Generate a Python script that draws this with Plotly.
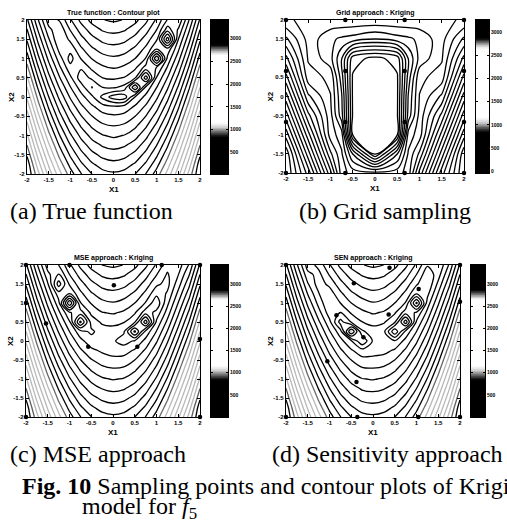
import numpy as np
import plotly.graph_objects as go

W, H = 507, 520

# ---------------- data ----------------
X1_FINE = [-2, -1.75, -1.5, -1.25, -1, -0.75, -0.5, -0.25, 0, 0.25, 0.5, 0.75, 1, 1.25, 1.5, 1.75, 2]
X2_FINE = [-2, -1.75, -1.5, -1.25, -1, -0.75, -0.5, -0.25, 0, 0.25, 0.5, 0.75, 1, 1.25, 1.5, 1.75, 2]
X1_GRIDMODEL = [-2, -1.5, -1, -0.75, -0.5, 0, 0.5, 0.75, 1, 1.5, 2]
X2_GRIDMODEL = [-2, -1.5, -1, -0.5, 0, 0.5, 1, 1.5, 2]

# rows: X2 = -2 ... 2 ; columns: X1 = -2 ... 2
TRUE_F = [
    [3609, 2571, 1812, 1274, 904, 660, 508, 427, 401, 426, 506, 657, 900, 1269, 1806, 2564, 3601],
    [3315, 2324, 1606, 1102, 760, 538, 402, 331, 307, 330, 400, 535, 756, 1097, 1600, 2317, 3307],
    [3034, 2090, 1412, 943, 629, 428, 308, 246, 226, 245, 306, 425, 625, 938, 1406, 2083, 3026],
    [2765, 1868, 1231, 796, 510, 332, 227, 174, 157, 173, 225, 329, 506, 791, 1225, 1861, 2757],
    [2509, 1658, 1062, 662, 404, 247, 158, 115, 101, 114, 156, 244, 400, 657, 1056, 1651, 2501],
    [2265, 1462, 906, 540, 310, 175, 102, 68, 57, 67, 100, 172, 306, 535, 900, 1455, 2257],
    [2034, 1277, 762, 430, 229, 116, 58.5, 33.2, 26, 32.2, 56.5, 113, 225, 425, 756, 1270, 2026],
    [1815, 1105, 631, 334, 160, 69.1, 27.3, 11.4, 7.3, 10.4, 25.3, 66.1, 156, 329, 625, 1098, 1807],
    [1609, 946, 512, 249, 104, 34.7, 8.5, 2.0, 1.0, 0.95, 6.5, 31.7, 100, 244, 506, 939, 1601],
    [1415, 799, 406, 177, 60.3, 12.8, 2.25, 5.1, 7.3, 4.1, 0.25, 9.8, 56.3, 172, 400, 792, 1407],
    [1234, 665, 312, 118, 29, 3.45, 8.5, 20.7, 26, 19.7, 6.5, 0.45, 25, 113, 306, 657, 1226],
    [1065, 543, 231, 71.1, 10.3, 6.6, 27.3, 48.8, 57.3, 47.8, 25.3, 3.6, 6.3, 66.1, 225, 535, 1057],
    [909, 432, 162, 36.7, 4, 22.2, 58.5, 89.4, 101, 88.5, 56.5, 19.2, 0, 31.7, 156, 426, 901],
    [765, 337, 106, 14.8, 10.3, 50.3, 102, 143, 157, 142, 100, 47.3, 6.3, 9.8, 100, 330, 757],
    [634, 252, 62.5, 5.5, 29, 91, 158, 208, 226, 207, 156, 88, 25, 0.45, 56.5, 245, 626],
    [515, 180, 31.3, 8.6, 60.3, 144, 227, 286, 307, 285, 225, 141, 56.3, 3.6, 25.3, 173, 507],
    [409, 120, 12.5, 24.2, 104, 210, 308, 377, 401, 376, 306, 207, 100, 19.2, 6.5, 113, 401],
]

# Kriging model built on the 4x4 grid of samples (columns follow X1_GRIDMODEL)
GRID_F = [
    [4088, 2044, 701.2, 225, 148.1, 136.2, 148.1, 225, 701.2, 2044, 4088],
    [3329, 1518.7, 409.3, 196, 20.0, -0.5, 20.0, 196, 409.3, 1518.7, 3329],
    [2647, 1070.6, 228.6, 144, -0.5, -4, -0.5, 144, 228.6, 1070.6, 2647],
    [2044, 701.2, 214.3, 36, -0.8, -9, -0.8, 36, 214.3, 701.2, 2044],
    [1518.7, 409.3, 186.6, 25, -1.44, -9, -1.44, 25, 186.6, 409.3, 1518.7],
    [1070.6, 223.8, 164.6, 12.25, -1, -6.25, -1, 12.25, 164.6, 223.8, 1070.6],
    [701.2, 173.5, 74.1, 6.25, 0.48, -3, 0.48, 6.25, 74.1, 173.5, 701.2],
    [409.3, 156.3, 68.7, 49, 40, 19.2, 40, 49, 68.7, 156.3, 409.3],
    [195.7, 164.6, 164.6, 169, 169, 169, 169, 169, 164.6, 164.6, 195.7],
]

MSE_F = [
    [3609, 2571, 1812, 1273, 900, 658, 511, 433, 407, 429, 507, 657, 903, 1284, 1836, 2568, 3603],
    [3315, 2324, 1606, 1101, 756, 536, 405, 337, 313, 333, 401, 535, 759, 1112, 1630, 2321, 3309],
    [3034, 2090, 1412, 942, 625, 426, 311, 252, 232, 248, 307, 425, 628, 953, 1436, 2087, 3028],
    [2765, 1868, 1231, 795, 506, 330, 230, 180, 163, 176, 226, 329, 509, 806, 1255, 1865, 2759],
    [2509, 1658, 1062, 661, 400, 245, 161, 121, 107, 117, 157, 244, 403, 672, 1086, 1655, 2503],
    [2265, 1462, 906, 539, 306, 173, 105, 74, 63, 69.5, 101, 172, 309, 550, 930, 1459, 2259],
    [2034, 1277, 762, 429, 225, 114, 60.8, 39.6, 32, 35.1, 56.9, 113, 228, 440, 786, 1274, 2028],
    [1815, 1105, 631, 333, 156, 66.8, 29.5, 17.8, 13.3, 13.3, 25.6, 66, 159, 344, 655, 1102, 1809],
    [1609, 946, 512, 248, 100, 32.4, 10.8, 8.4, 7, 3.9, 6.9, 31.7, 103, 259, 536, 943, 1603],
    [1415, 799, 406, 176, 56.4, 10.6, 4.5, 11.5, 13.3, 7.0, 0.6, 9.9, 59.3, 187, 430, 796, 1409],
    [1234, 665, 312, 117, 25.1, 0.6, 10.8, 27.1, 32, 22.6, 6.9, 0.45, 28, 128, 336, 662, 1228],
    [1065, 543, 231, 70, 6.4, 3.7, 29.5, 55.3, 63.3, 50.8, 25.6, 3.55, 9.3, 81, 255, 540, 1059],
    [909, 433, 162, 33.0, 0.1, 19.3, 60.8, 95.9, 107, 91.4, 56.9, 19.2, 3, 46.6, 186, 430, 903],
    [765, 337, 106, 11.2, 6.4, 47.5, 104.5, 149, 163, 144.5, 100.6, 47.4, 9.3, 24.8, 130, 334, 759],
    [634, 252, 62.6, 1.8, 25.1, 88.7, 160.5, 215, 232, 210.5, 156.6, 88, 28, 15.4, 86.3, 249, 628],
    [515, 180, 31.3, 4.9, 56.4, 141.8, 229.5, 293, 313, 288.5, 225.6, 141, 59.3, 18.5, 55, 177, 509],
    [409, 121, 12.6, 20.5, 100.1, 207.8, 310.5, 383, 407, 378.5, 306.6, 207, 103, 34.1, 36.3, 118, 403],
]

SEN_F = [
    [3609, 2571, 1812, 1281, 906, 659, 506, 426, 407, 431, 507, 657, 901, 1275, 1821, 2568, 3603],
    [3315, 2324, 1606, 1109, 762, 537, 400, 330, 313, 335, 401, 535, 757, 1103, 1615, 2321, 3309],
    [3034, 2090, 1412, 950, 631, 427, 306, 245, 232, 250, 307, 425, 626, 944, 1421, 2087, 3028],
    [2765, 1868, 1231, 803, 512, 331, 225, 173, 163, 178, 226, 329, 507, 797, 1240, 1865, 2759],
    [2509, 1658, 1062, 669, 406, 246, 156, 114, 107, 119, 157, 244, 401, 663, 1071, 1655, 2503],
    [2265, 1462, 906, 547, 312, 174, 100, 67, 63, 71.5, 101, 172, 307, 541, 915, 1459, 2259],
    [2034, 1277, 762, 437, 231, 115, 56.4, 32.6, 32, 37.1, 57.1, 113, 226, 431, 771, 1274, 2028],
    [1815, 1105, 631, 341, 162, 67.5, 25.1, 10.8, 13.3, 15.3, 25.8, 66, 157, 335, 640, 1102, 1809],
    [1609, 946, 512, 256, 106, 33.1, 6.4, 1.4, 7, 5.9, 7.1, 31.7, 101, 250, 521, 943, 1603],
    [1415, 799, 406, 184, 61.8, 11.3, 0.1, 4.5, 13.3, 9.0, 0.8, 9.85, 56.9, 178, 415, 796, 1409],
    [1234, 665, 312, 125, 30.5, 1.9, 6.4, 20.1, 32, 24.6, 7.1, 0.45, 25.6, 118.5, 321, 662, 1228],
    [1065, 543, 231, 78, 11.8, 5.0, 25.1, 48.3, 63.3, 52.8, 25.8, 3.55, 6.9, 71.5, 240, 540, 1059],
    [909, 433, 162, 43.6, 5.5, 20.6, 56.4, 88.9, 107, 93.4, 57.1, 19.15, 0.6, 37.1, 171, 430, 903],
    [765, 337, 106, 21.8, 11.8, 48.8, 100.1, 142, 163, 146.5, 100.8, 47.35, 6.9, 15.3, 115, 334, 759],
    [634, 252, 62.6, 12.4, 30.5, 89.4, 156.1, 208, 232, 212.5, 156.8, 87.95, 25.6, 5.9, 71.3, 249, 628],
    [515, 180, 31.3, 15.5, 61.8, 142.5, 225.1, 286, 313, 290.5, 225.8, 141, 56.9, 9.0, 40, 177, 509],
    [409, 121, 12.6, 31.1, 105.5, 208.5, 306.1, 376, 407, 380.5, 306.8, 207, 100.6, 24.6, 21.3, 118, 403],
]

# sampling points
GRID_X1 = [-2, -0.667, 0.667, 2, -2, -0.667, 0.667, 2, -2, -0.667, 0.667, 2, -2, -0.667, 0.667, 2]
GRID_X2 = [2, 2, 2, 2, 0.667, 0.667, 0.667, 0.667, -0.667, -0.667, -0.667, -0.667, -2, -2, -2, -2]
MSE_X1 = [-2, -1.0, 1.12, 2, 0.02, -2, -1.54, -0.57, 0.56, 2, -2, 2]
MSE_X2 = [2, 2, 2, 2, 1.47, 1.0, 0.46, -0.15, -0.15, 0.05, -2, -2]
SEN_X1 = [-2, 0.38, 2, -0.44, 1.05, 2, 0.36, -0.84, -0.22, -1.05, -0.38, -2, -0.36, 1.04, 2]
SEN_X2 = [2, 1.93, 2, 1.52, 1.37, 1.03, 0.7, 0.68, 0.1, -0.53, -1.08, -2, -2, -2, -2]

# contour levels (function values)
LEVELS = [0.3, 0.7, 1.3, 2.3, 5, 20.4, 56.6, 110.7, 182.8, 272.9, 381, 507.2, 651.3,
          813.4, 993.5, 1191.6, 1407.8, 1641.9, 1894, 2164.1, 2452.2, 2758.4, 3082.5, 3424.6]

AXIS_TICKS = [-2, -1.5, -1, -0.5, 0, 0.5, 1, 1.5, 2]
AXIS_TICKTEXT = ["-2", "-1.5", "-1", "-0.5", "0", "0.5", "1", "1.5", "2"]
CB_TICKS_A = [500, 1000, 1500, 2000, 2500, 3000]
CB_TICKS_B = [0, 500, 1000, 1500, 2000, 2500, 3000]

# ---------------- helpers ----------------
N = len(LEVELS)
KF = [-10.0] + LEVELS + [100000.0]
KI = [-1.0] + list(range(N)) + [float(N)]


def level_index(F):
    return np.interp(np.asarray(F, dtype=float), KF, KI)


# grey version of the (jet) colormap as it appears in the scan
BAND_F = [-1000, 850, 950, 1050, 1150, 2650, 2720, 2790, 2860, 100000]
BAND_B = [0, 0, 0.4, 0.8, 1, 1, 0.73, 0.33, 0, 0]


def grey(b):
    v = int(round(255 * b))
    return f"rgb({v},{v},{v})"


LINE_SCALE = []
for i, lv in enumerate(LEVELS):
    b = float(np.interp(lv, BAND_F, BAND_B)) * 0.72
    LINE_SCALE.append([i / (N - 1), grey(b)])
BLACK_SCALE = [[0, "black"], [1, "black"]]


def cb_scale(cmin, cmax):
    vals = np.linspace(cmin, cmax, 80)
    return [[(v - cmin) / (cmax - cmin), grey(float(np.interp(v, BAND_F, BAND_B)))] for v in vals]


def fx(px):
    return px / W


def fy(py):
    return 1 - py / H


PANELS = [
    dict(F=TRUE_F, x=X1_FINE, y=X2_FINE, px=(27, 200), py=(20, 174), cb=(211, 228),
         crange=(20, 3410), cticks=CB_TICKS_A, title="True function : Contour plot",
         pts=None, scale=LINE_SCALE),
    dict(F=GRID_F, x=X1_GRIDMODEL, y=X2_GRIDMODEL, px=(286, 464), py=(20, 173), cb=(476, 489),
         crange=(-40, 3260), cticks=CB_TICKS_B, title="Grid approach : Kriging",
         pts=(GRID_X1, GRID_X2), scale=BLACK_SCALE),
    dict(F=MSE_F, x=X1_FINE, y=X2_FINE, px=(26, 200), py=(265, 417), cb=(211, 228),
         crange=(0, 3430), cticks=CB_TICKS_A, title="MSE approach : Kriging",
         pts=(MSE_X1, MSE_X2), scale=LINE_SCALE),
    dict(F=SEN_F, x=X1_FINE, y=X2_FINE, px=(286, 460), py=(265, 417), cb=(471, 485),
         crange=(0, 3430), cticks=CB_TICKS_A, title="SEN approach : Kriging",
         pts=(SEN_X1, SEN_X2), scale=LINE_SCALE),
]

fig = go.Figure()
annotations = []
layout_axes = {}
TICK_FONT = dict(family="Liberation Sans", size=6, color="black", weight="bold")
CB_FONT = dict(family="Liberation Sans", size=5, color="black", weight="bold")


def axis_names(n):
    xa = "x" if n == 1 else f"x{n}"
    ya = "y" if n == 1 else f"y{n}"
    xkey = "xaxis" if n == 1 else f"xaxis{n}"
    ykey = "yaxis" if n == 1 else f"yaxis{n}"
    return xa, ya, xkey, ykey


for k, p in enumerate(PANELS):
    xa, ya, xkey, ykey = axis_names(k + 1)

    fig.add_trace(go.Contour(
        x=p["x"], y=p["y"], z=level_index(p["F"]),
        autocontour=False,
        contours=dict(start=0, end=N - 1, size=1, coloring="lines", showlabels=False),
        colorscale=p["scale"], zmin=0, zmax=N - 1, showscale=False,
        line=dict(width=1.3, smoothing=0.9),
        xaxis=xa, yaxis=ya, hoverinfo="skip",
    ))

    if p["pts"] is not None:
        fig.add_trace(go.Scatter(
            x=p["pts"][0], y=p["pts"][1], mode="markers",
            marker=dict(color="black", size=4.5),
            xaxis=xa, yaxis=ya, cliponaxis=False, hoverinfo="skip", showlegend=False,
        ))

    px0, px1 = p["px"]
    py0, py1 = p["py"]
    common = dict(
        range=[-2, 2], showgrid=False, zeroline=False, showline=True, linewidth=1.2,
        linecolor="black", mirror="ticks", ticks="inside", ticklen=3, tickcolor="black",
        tickvals=AXIS_TICKS, ticktext=AXIS_TICKTEXT, tickfont=TICK_FONT, automargin=False,
    )
    layout_axes[xkey] = dict(domain=[fx(px0), fx(px1)], anchor=ya, **common)
    layout_axes[ykey] = dict(domain=[fy(py1), fy(py0)], anchor=xa, **common)

    # colour bar drawn in its own small axes
    cxa, cya, cxkey, cykey = axis_names(k + 5)
    cmin, cmax = p["crange"]
    cb0, cb1 = p["cb"]
    bar_vals = np.linspace(cmin, cmax, 240)
    fig.add_trace(go.Heatmap(
        x=[0], y=bar_vals, z=[[v] for v in bar_vals], colorscale=cb_scale(cmin, cmax),
        zmin=cmin, zmax=cmax, showscale=False, xaxis=cxa, yaxis=cya, hoverinfo="skip",
    ))
    layout_axes[cxkey] = dict(domain=[fx(cb0), fx(cb1)], anchor=cya, range=[-0.5, 0.5],
                              showgrid=False, zeroline=False, showticklabels=False, ticks="",
                              showline=True, mirror=True, linecolor="black", linewidth=1,
                              automargin=False)
    layout_axes[cykey] = dict(domain=[fy(py1), fy(py0)], anchor=cxa, range=[cmin, cmax],
                              side="right", showgrid=False, zeroline=False, showline=True,
                              mirror="ticks", linecolor="black", linewidth=1, ticks="inside",
                              ticklen=2, tickcolor="black", tickvals=p["cticks"],
                              tickfont=CB_FONT, automargin=False)

    cx = (px0 + px1) / 2
    small = dict(family="Liberation Sans", size=7, color="black")
    annotations.append(dict(text=f"<b>{p['title']}</b>", x=fx(cx), y=fy(py0 - 7),
                            xref="paper", yref="paper",
                            xanchor="center", yanchor="middle", showarrow=False, font=small))
    annotations.append(dict(text="<b>X1</b>", x=fx(cx), y=fy(py1 + 15),
                            xref="paper", yref="paper",
                            xanchor="center", yanchor="middle", showarrow=False,
                            font=dict(family="Liberation Sans", size=8, color="black")))
    annotations.append(dict(text="<b>X2</b>", x=fx(px0 - 16), y=fy((py0 + py1) / 2),
                            xref="paper", yref="paper",
                            xanchor="center", yanchor="middle", showarrow=False, textangle=-90,
                            font=dict(family="Liberation Sans", size=8, color="black")))

CAP_FONT = dict(family="Liberation Serif, Times New Roman, serif", size=24, color="black")
captions = [
    ("(a) True function", 8, 211),
    ("(b) Grid sampling", 297, 211),
    ("(c) MSE approach", 8, 454),
    ("(d) Sensitivity approach", 270, 454),
    ("<b>Fig. 10</b> Sampling points and contour plots of Kriging", 20, 486),
    ("model for <i>f</i><sub>5</sub>", 80, 508),
]
for txt, x0, yc in captions:
    annotations.append(dict(text=txt, x=fx(x0), y=fy(yc), xref="paper", yref="paper",
                            xanchor="left", yanchor="middle", showarrow=False, font=CAP_FONT))

fig.update_layout(
    width=W, height=H, margin=dict(l=0, r=0, t=0, b=0, autoexpand=False),
    paper_bgcolor="white", plot_bgcolor="white", showlegend=False,
    annotations=annotations, **layout_axes,
)

fig.write_html("out.html", config={"displayModeBar": False},
               post_script="document.body.style.margin='0px';document.body.style.overflow='hidden';")
